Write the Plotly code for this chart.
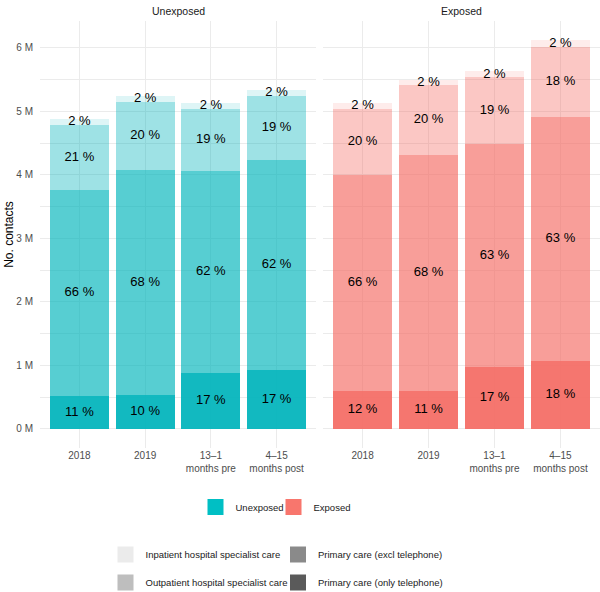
import numpy as np
import plotly.graph_objects as go

# ---------------- data (values in millions of contacts) ----------------
categories = ["2018", "2019", "13–1<br>months pre", "4–15<br>months post"]
care_types = ["Primary care (only telephone)", "Primary care (excl telephone)",
              "Outpatient hospital specialist care", "Inpatient hospital specialist care"]

unexposed_tel = [0.52, 0.54, 0.88, 0.93]
unexposed_prim = [3.24, 3.54, 3.18, 3.31]
unexposed_out = [1.03, 1.07, 0.98, 1.01]
unexposed_inp = [0.09, 0.09, 0.10, 0.09]

exposed_tel = [0.60, 0.60, 0.97, 1.07]
exposed_prim = [3.40, 3.72, 3.52, 3.85]
exposed_out = [1.04, 1.09, 1.05, 1.10]
exposed_inp = [0.09, 0.08, 0.09, 0.10]

unexposed_pct_tel = [11, 10, 17, 17]
unexposed_pct_prim = [66, 68, 62, 62]
unexposed_pct_out = [21, 20, 19, 19]
unexposed_pct_inp = [2, 2, 2, 2]

exposed_pct_tel = [12, 11, 17, 18]
exposed_pct_prim = [66, 68, 63, 63]
exposed_pct_out = [20, 20, 19, 18]
exposed_pct_inp = [2, 2, 2, 2]

ytick_vals = [0, 1, 2, 3, 4, 5, 6]
ytick_text = ["0 M", "1 M", "2 M", "3 M", "4 M", "5 M", "6 M"]

# ---------------- styling ----------------
FONT = "Liberation Sans, Arial, Helvetica, sans-serif"
W, H = 600, 592
ML, MR, MT, MB = 40, 0, 21, 144
PW, PH = W - ML - MR, H - MT - MB

def px_x(p):
    return (p - ML) / PW

def px_y(p):
    return (H - MB - p) / PH

bar_base = {"Unexposed": (0, 180, 187), "Exposed": (244, 108, 100)}
key_colors = {"Unexposed": "#00BFC4", "Exposed": "#F8766D"}
alphas = [0.93, 0.66, 0.38, 0.13]   # tel, prim, out, inp
legend_grays = {"Inpatient hospital specialist care": "#EBEBEB",
                "Outpatient hospital specialist care": "#BEBEBE",
                "Primary care (excl telephone)": "#8A8A8A",
                "Primary care (only telephone)": "#5A5A5A"}

fig = go.Figure()

groups = [
    ("Unexposed", "x", "y", [unexposed_tel, unexposed_prim, unexposed_out, unexposed_inp],
     [unexposed_pct_tel, unexposed_pct_prim, unexposed_pct_out, unexposed_pct_inp]),
    ("Exposed", "x2", "y2", [exposed_tel, exposed_prim, exposed_out, exposed_inp],
     [exposed_pct_tel, exposed_pct_prim, exposed_pct_out, exposed_pct_inp]),
]

for gname, xa, ya, segs, pcts in groups:
    r, g, b = bar_base[gname]
    for seg, a, ct in zip(segs, alphas, care_types):
        fig.add_trace(go.Bar(
            x=categories, y=seg, xaxis=xa, yaxis=ya,
            marker=dict(color=f"rgba({r},{g},{b},{a})", line=dict(width=0)),
            name=ct, showlegend=False, hoverinfo="skip",
        ))
    arr = np.array(segs)
    tops = np.cumsum(arr, axis=0)
    mids = tops - arr / 2
    for i in range(arr.shape[0]):
        fig.add_trace(go.Scatter(
            x=categories, y=mids[i], xaxis=xa, yaxis=ya, mode="text",
            text=[f"{p} %" for p in pcts[i]],
            textfont=dict(family=FONT, size=13, color="#000000"),
            showlegend=False, hoverinfo="skip",
        ))

# legend: exposure group (one legend per entry for exact placement)
for gname, lg in [("Unexposed", "legend"), ("Exposed", "legend6")]:
    fig.add_trace(go.Scatter(
        x=[None], y=[None], mode="markers", name=gname,
        marker=dict(symbol="square", size=16, color=key_colors[gname]),
        legend=lg, showlegend=True,
    ))

# legends: care type (2 x 2 grid)
alpha_legend_order = [
    ("Inpatient hospital specialist care", "legend2"),
    ("Outpatient hospital specialist care", "legend3"),
    ("Primary care (excl telephone)", "legend4"),
    ("Primary care (only telephone)", "legend5"),
]
for name, lg in alpha_legend_order:
    fig.add_trace(go.Scatter(
        x=[None], y=[None], mode="markers", name=name,
        marker=dict(symbol="square", size=16, color=legend_grays[name]),
        legend=lg, showlegend=True, xaxis="x", yaxis="y",
    ))

legend_font = dict(family=FONT, size=9.5, color="#1A1A1A")
def leg(x, y):
    return dict(x=x, y=y, xanchor="left", yanchor="middle", orientation="v",
                traceorder="normal", font=legend_font, bgcolor="rgba(0,0,0,0)",
                borderwidth=0, itemclick=False, itemdoubleclick=False)

grid = "#EBEBEB"
yaxis_common = dict(range=[-0.30, 6.425], tickvals=ytick_vals, ticktext=ytick_text,
                    showgrid=True, gridcolor=grid, gridwidth=1, zeroline=False,
                    minor=dict(dtick=0.5, showgrid=True, gridcolor=grid, gridwidth=0.6),
                    ticks="", showline=False, ticklabelstandoff=6,
                    tickfont=dict(family=FONT, size=10, color="#4D4D4D"))
xaxis_common = dict(type="category", range=[-0.6, 3.6], showgrid=True, gridcolor=grid,
                    gridwidth=1, ticks="", showline=False, zeroline=False,
                    tickfont=dict(family=FONT, size=10, color="#4D4D4D"))

left_end = px_x(316)
right_start = px_x(323)

fig.update_layout(
    width=W, height=H,
    margin=dict(l=ML, r=MR, t=MT, b=MB, autoexpand=False),
    paper_bgcolor="white", plot_bgcolor="white",
    barmode="stack", bargap=0.1,
    font=dict(family=FONT, color="#1A1A1A"),
    xaxis=dict(domain=[0, left_end], **xaxis_common),
    xaxis2=dict(domain=[right_start, 1], anchor="y2", **xaxis_common),
    yaxis=dict(domain=[0, 1], anchor="x",
               title=dict(text="No. contacts", font=dict(family=FONT, size=12, color="#000000"),
                          standoff=0),
               **yaxis_common),
    yaxis2=dict(domain=[0, 1], anchor="x2", showticklabels=False, **yaxis_common),
    legend=leg(px_x(195.5), px_y(507)),
    legend6=leg(px_x(273.5), px_y(507)),
    legend2=leg(px_x(105.5), px_y(554.5)),
    legend3=leg(px_x(105.5), px_y(582.5)),
    legend4=leg(px_x(278), px_y(554.5)),
    legend5=leg(px_x(278), px_y(582.5)),
    annotations=[
        dict(text="Unexposed", x=(0 + left_end) / 2, y=px_y(11), xref="paper", yref="paper",
             showarrow=False, xanchor="center", yanchor="middle",
             font=dict(family=FONT, size=10.5, color="#1A1A1A")),
        dict(text="Exposed", x=(right_start + 1) / 2, y=px_y(11), xref="paper", yref="paper",
             showarrow=False, xanchor="center", yanchor="middle",
             font=dict(family=FONT, size=10.5, color="#1A1A1A")),
    ],
)

fig.write_html("out.html")
